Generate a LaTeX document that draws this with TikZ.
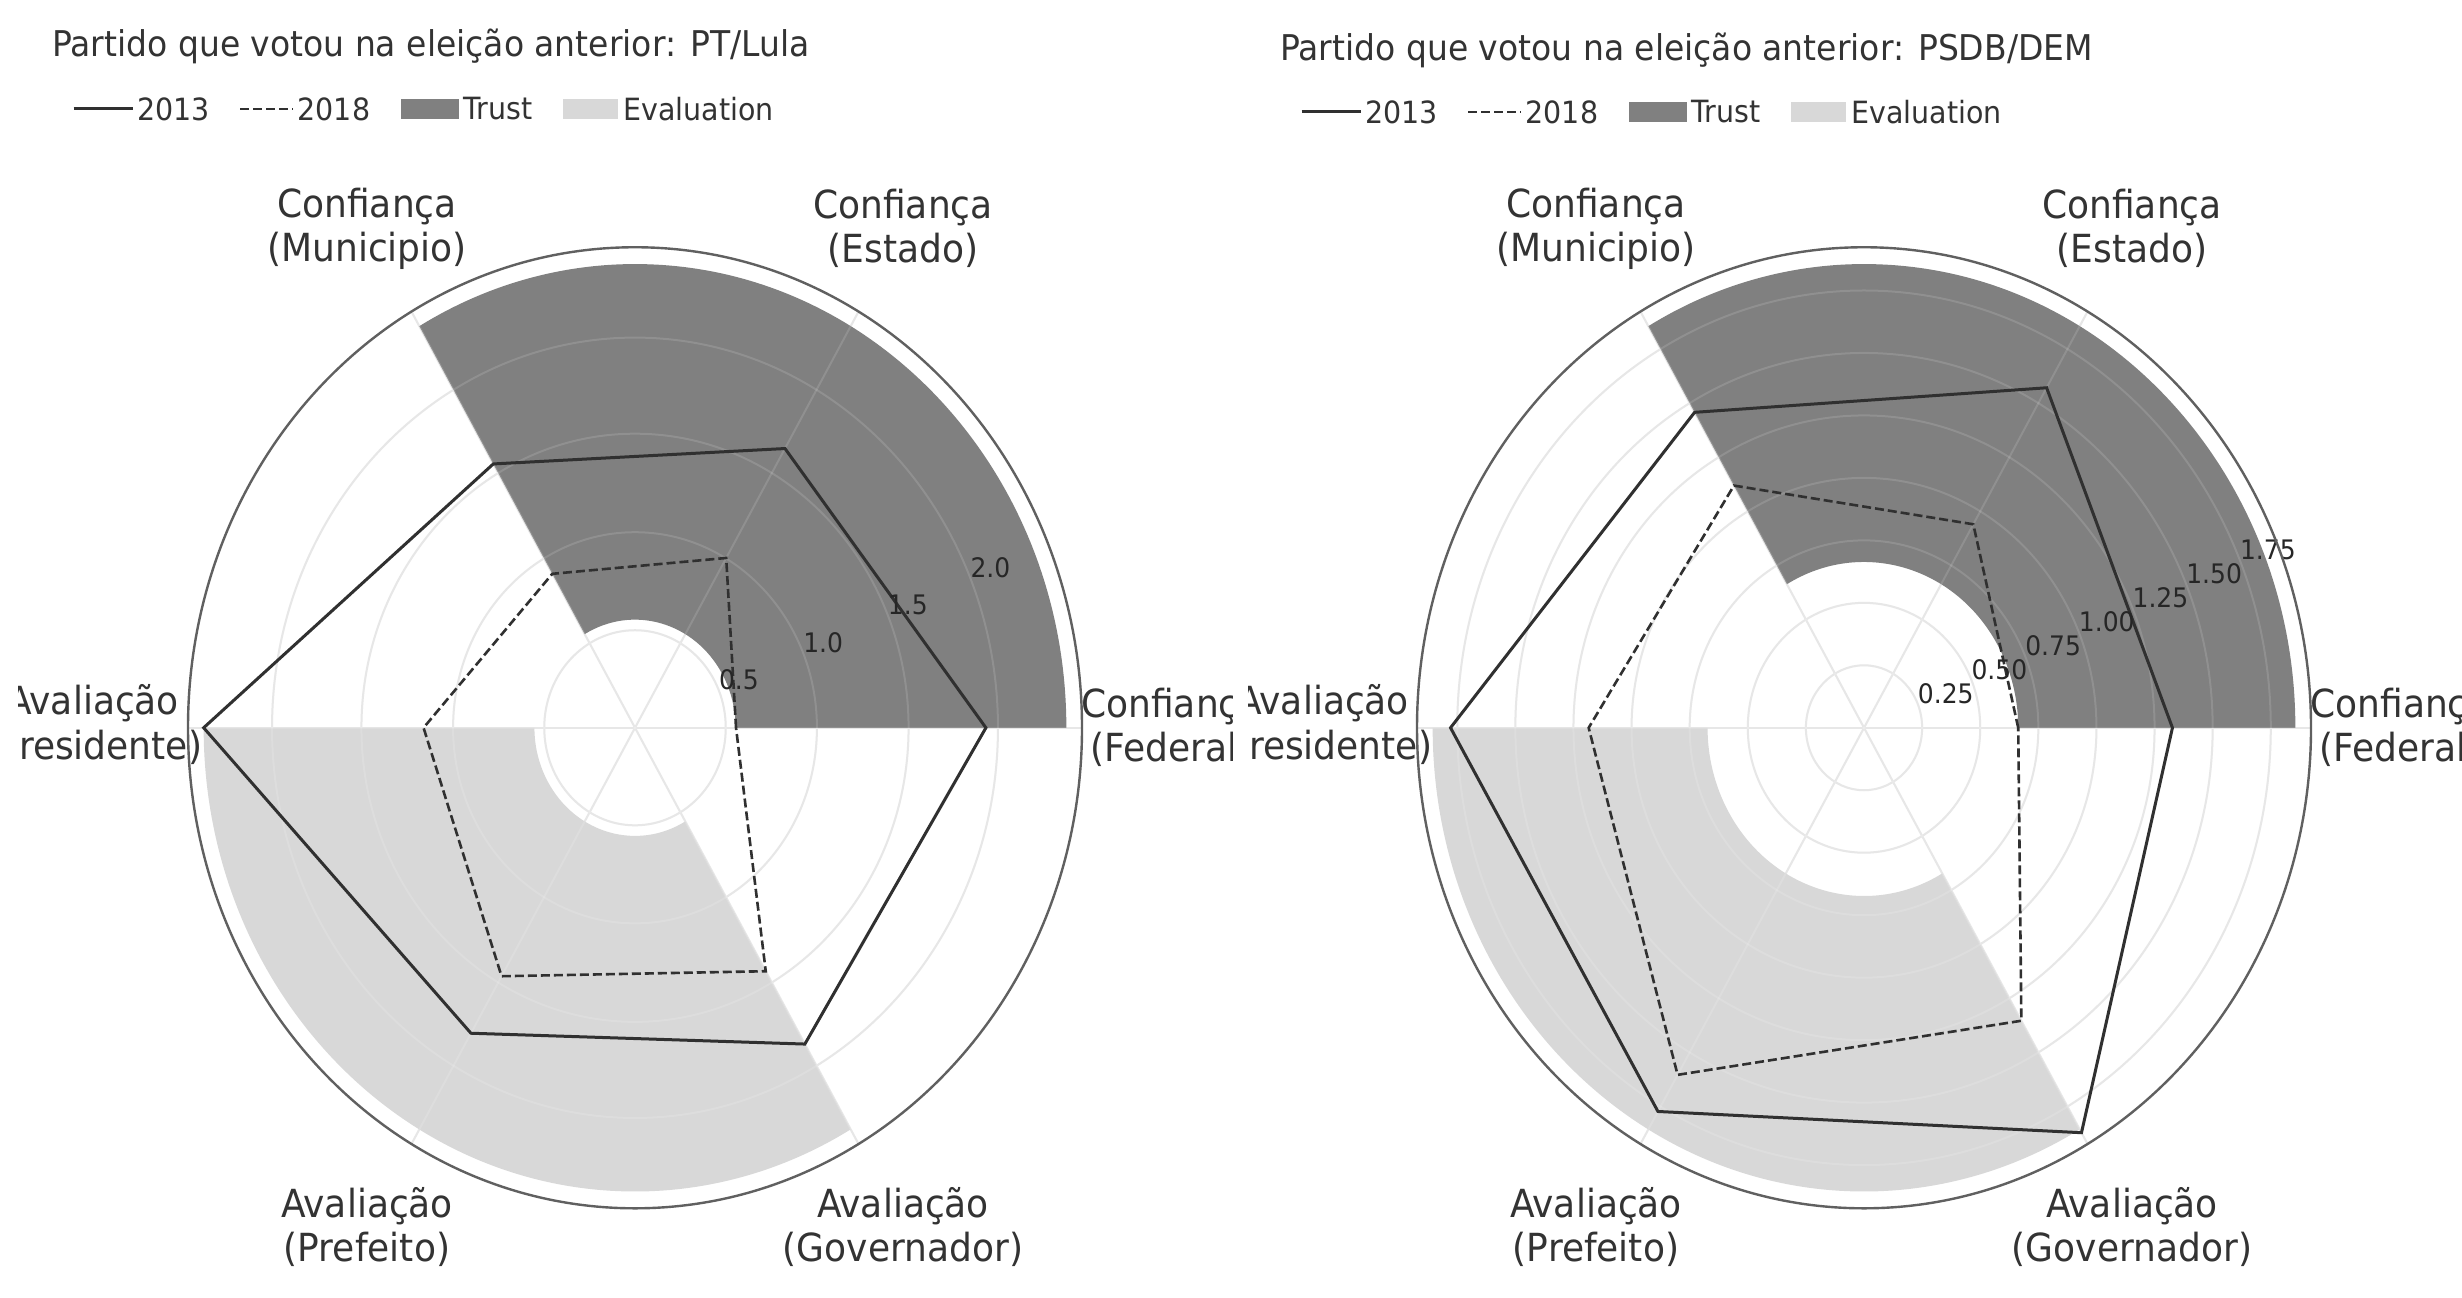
\documentclass[tikz,border=0pt]{standalone}
\usepackage{fontspec}
\setmainfont{DejaVu Sans}
\definecolor{trustc}{HTML}{808080}
\definecolor{evalc}{HTML}{D8D8D8}
\definecolor{gridc}{HTML}{E4E4E4}
\definecolor{txtc}{HTML}{333333}
\definecolor{linec}{HTML}{303030}
\definecolor{spinec}{HTML}{606060}
\tikzset{
  gridline/.style={draw=gridc, line width=1pt},
  gridover/.style={draw=white, draw opacity=0.13, line width=1pt},
  spine/.style={draw=spinec, line width=1.2pt},
  yrsolid/.style={draw=linec, line width=1.5pt, line join=miter},
  yrdash/.style={draw=linec, line width=1.3pt, dash pattern=on 4.5pt off 2pt},
  catlabel/.style={font=\fontsize{36}{41}\selectfont, text=txtc, align=center, inner sep=0pt},
  rlabel/.style={font=\fontsize{25}{30}\selectfont, text=black!85, anchor=south west, inner sep=0pt},
  titletext/.style={font=\fontsize{33}{40}\selectfont, text=txtc, anchor=west, inner sep=0pt},
  legtext/.style={font=\fontsize{28.5}{34}\selectfont, text=txtc, anchor=west, inner sep=0pt},
}
\begin{document}
\begin{tikzpicture}[x=1pt, y=1pt, xscale=0.5, yscale=0.5375, transform shape]
\useasboundingbox (0,0) rectangle (2462,1206.51);
\fill[white] (0,0) rectangle (2462,1206.51);

% ================= LEFT PANEL =================
\begin{scope}
\clip (18,0) rectangle (1232,1206.51);
\node[titletext] (tL) at (52,1163.7) {Partido que votou na eleição anterior: PT/Lula};
\coordinate (lsA) at (73.5,1105.1); \coordinate (lsB) at (133,1105.1);
\draw[yrsolid] (lsA) -- (lsB);
\node[legtext] (lg13L) at (137,1105.1) {2013};
\coordinate (ldA) at (240,1105.1); \coordinate (ldB) at (293,1105.1);
\draw[yrdash] (ldA) -- (ldB);
\node[legtext] (lg18L) at (297.5,1105.1) {2018};
\fill[trustc] (401,1095.8) rectangle (459,1114.4);
\node[legtext] (lgTrL) at (463,1105.1) {Trust};
\fill[evalc] (563,1095.8) rectangle (618,1114.4);
\node[legtext] (lgEvL) at (623,1105.1) {Evaluation};

\begin{scope}[shift={(635,529.5)}]
  \foreach \g in {0.203,0.407,0.612,0.812} \draw[gridline] (0,0) circle[radius={\g*447}];
  \foreach \a in {0,60,120} \draw[gridline] (\a:447) -- (\a+180:447);
  \fill[trustc] (0:{0.225*447}) -- (0:{0.965*447}) arc[start angle=0, end angle=120, radius={0.965*447}]
     -- (120:{0.225*447}) arc[start angle=120, end angle=0, radius={0.225*447}] -- cycle;
  \fill[evalc] (180:{0.225*447}) -- (180:{0.965*447}) arc[start angle=180, end angle=300, radius={0.965*447}]
     -- (300:{0.225*447}) arc[start angle=300, end angle=180, radius={0.225*447}] -- cycle;
  \foreach \g in {0.203,0.407,0.612,0.812} \draw[gridover] (0,0) circle[radius={\g*447}];
  \foreach \a in {0,60,120} \draw[gridover] (\a:447) -- (\a+180:447);
  \draw[yrsolid] (0:{0.785*447}) -- (60:{0.671*447}) -- (120:{0.634*447}) -- (180:{0.965*447})
     -- (240:{0.734*447}) -- (300:{0.760*447}) -- cycle;
  \draw[yrdash] (0:{0.226*447}) -- (60:{0.408*447}) -- (120:{0.370*447}) -- (180:{0.473*447})
     -- (240:{0.597*447}) -- (300:{0.585*447}) -- cycle;
  \node[rlabel] (rL1) at (22.5:{0.203*447}) {0.5};
  \node[rlabel] (rL2) at (22.5:{0.407*447}) {1.0};
  \node[rlabel] (rL3) at (22.5:{0.612*447}) {1.5};
  \node[rlabel] (rL4) at (22.5:{0.812*447}) {2.0};
  \draw[spine] (0,0) circle[radius=447];
  \node[catlabel] (cL0) at (0:536) {Confiança\\(Federal)};
  \node[catlabel] (cL1) at (60:536) {Confiança\\(Estado)};
  \node[catlabel] (cL2) at (120:536) {Confiança\\(Municipio)};
  \node[catlabel] (cL3) at (-542,3) {Avaliação\\(Presidente)};
  \node[catlabel] (cL4) at (240:536) {Avaliação\\(Prefeito)};
  \node[catlabel] (cL5) at (300:536) {Avaliação\\(Governador)};
\end{scope}
\end{scope}

% ================= RIGHT PANEL =================
\begin{scope}
\clip (1248,0) rectangle (2462,1206.51);
\node[titletext] (tR) at (1280,1160.0) {Partido que votou na eleição anterior: PSDB/DEM};
\coordinate (rsA) at (1301.5,1102.3); \coordinate (rsB) at (1361,1102.3);
\draw[yrsolid] (rsA) -- (rsB);
\node[legtext] (lg13R) at (1365,1102.3) {2013};
\coordinate (rdA) at (1468,1102.3); \coordinate (rdB) at (1521,1102.3);
\draw[yrdash] (rdA) -- (rdB);
\node[legtext] (lg18R) at (1525.5,1102.3) {2018};
\fill[trustc] (1629,1093.0) rectangle (1687,1111.6);
\node[legtext] (lgTrR) at (1691,1102.3) {Trust};
\fill[evalc] (1791,1093.0) rectangle (1846,1111.6);
\node[legtext] (lgEvR) at (1851,1102.3) {Evaluation};

\begin{scope}[shift={(1864,529.5)}]
  \foreach \g in {0.13,0.26,0.39,0.52,0.65,0.78,0.91} \draw[gridline] (0,0) circle[radius={\g*447}];
  \foreach \a in {0,60,120} \draw[gridline] (\a:447) -- (\a+180:447);
  \fill[trustc] (0:{0.345*447}) -- (0:{0.965*447}) arc[start angle=0, end angle=120, radius={0.965*447}]
     -- (120:{0.345*447}) arc[start angle=120, end angle=0, radius={0.345*447}] -- cycle;
  \fill[evalc] (180:{0.35*447}) -- (180:{0.965*447}) arc[start angle=180, end angle=300, radius={0.965*447}]
     -- (300:{0.35*447}) arc[start angle=300, end angle=180, radius={0.35*447}] -- cycle;
  \foreach \g in {0.13,0.26,0.39,0.52,0.65,0.78,0.91} \draw[gridover] (0,0) circle[radius={\g*447}];
  \foreach \a in {0,60,120} \draw[gridover] (\a:447) -- (\a+180:447);
  \draw[yrsolid] (0:{0.69*447}) -- (60:{0.817*447}) -- (120:{0.758*447}) -- (180:{0.925*447})
     -- (240:{0.922*447}) -- (300:{0.973*447}) -- cycle;
  \draw[yrdash] (0:{0.345*447}) -- (60:{0.489*447}) -- (120:{0.582*447}) -- (180:{0.616*447})
     -- (240:{0.834*447}) -- (300:{0.704*447}) -- cycle;
  \node[rlabel] (rR1) at (22.5:{0.13*447}) {0.25};
  \node[rlabel] (rR2) at (22.5:{0.26*447}) {0.50};
  \node[rlabel] (rR3) at (22.5:{0.39*447}) {0.75};
  \node[rlabel] (rR4) at (22.5:{0.52*447}) {1.00};
  \node[rlabel] (rR5) at (22.5:{0.65*447}) {1.25};
  \node[rlabel] (rR6) at (22.5:{0.78*447}) {1.50};
  \node[rlabel] (rR7) at (22.5:{0.91*447}) {1.75};
  \draw[spine] (0,0) circle[radius=447];
  \node[catlabel] (cR0) at (0:536) {Confiança\\(Federal)};
  \node[catlabel] (cR1) at (60:536) {Confiança\\(Estado)};
  \node[catlabel] (cR2) at (120:536) {Confiança\\(Municipio)};
  \node[catlabel] (cR3) at (-541,3) {Avaliação\\(Presidente)};
  \node[catlabel] (cR4) at (240:536) {Avaliação\\(Prefeito)};
  \node[catlabel] (cR5) at (300:536) {Avaliação\\(Governador)};
\end{scope}
\end{scope}
\end{tikzpicture}
\end{document}
